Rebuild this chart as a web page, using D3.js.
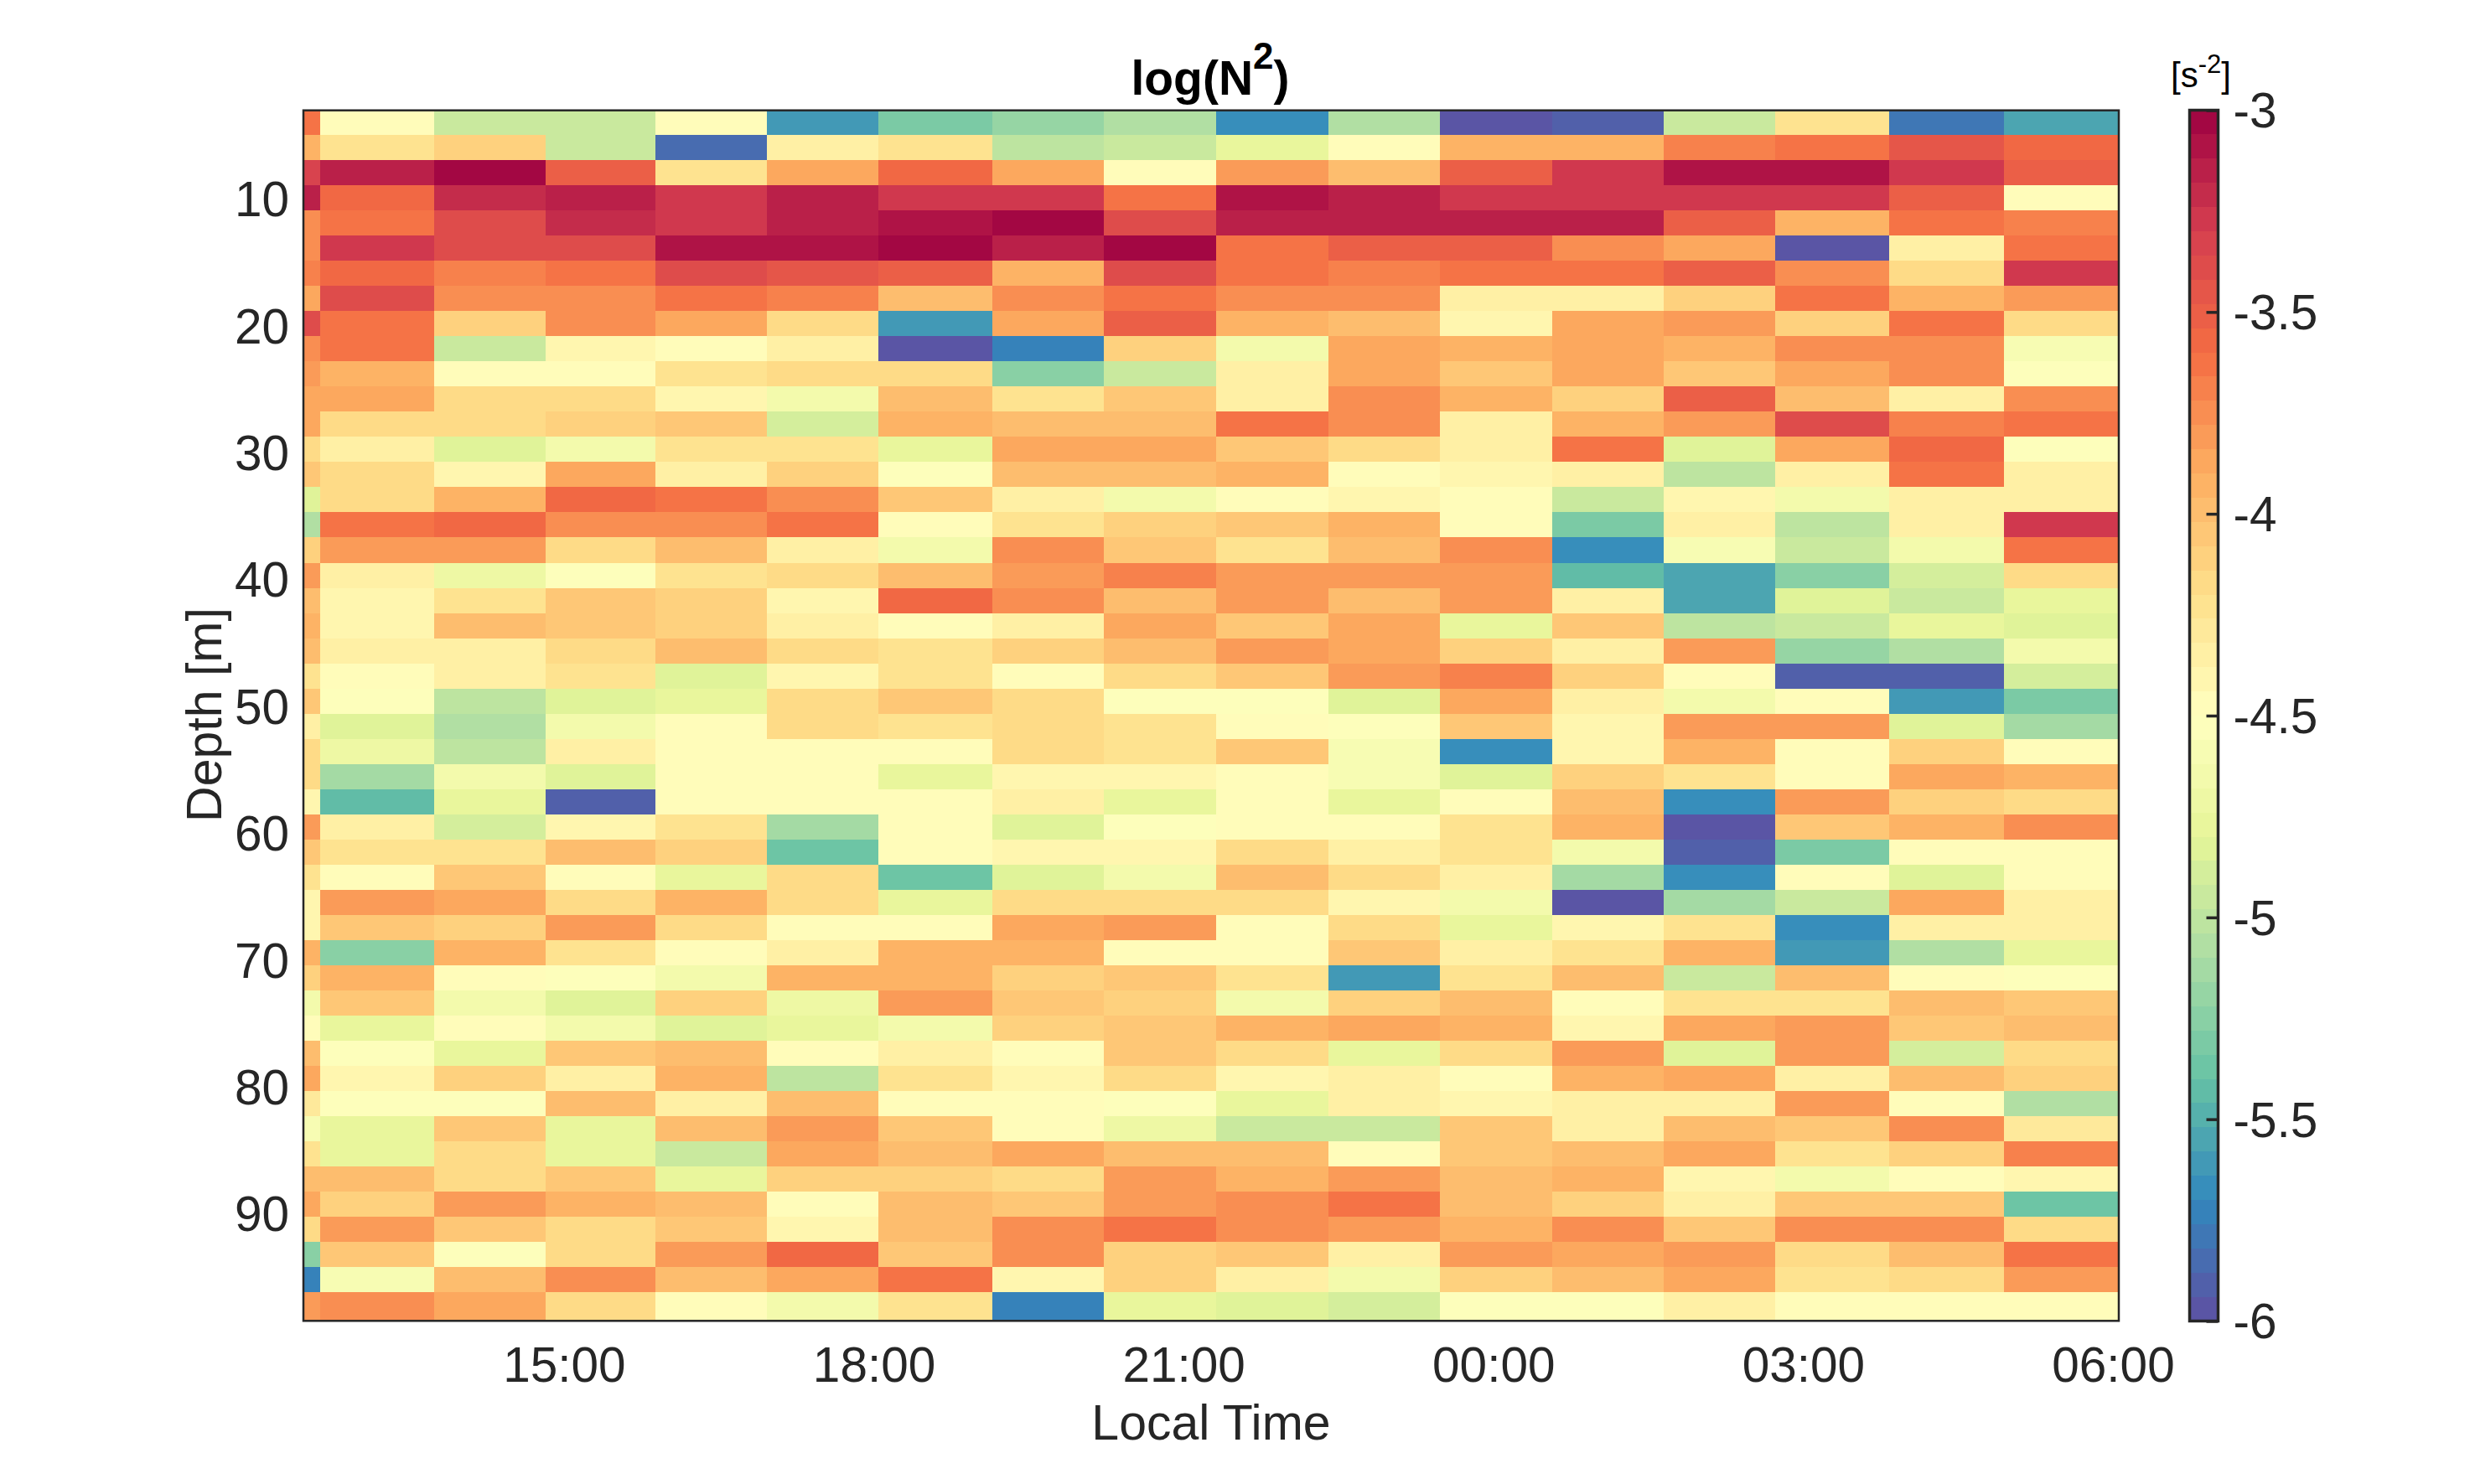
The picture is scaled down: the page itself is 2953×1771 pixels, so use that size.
<!DOCTYPE html>
<html>
<head>
<meta charset="utf-8">
<script src="https://d3js.org/d3.v7.min.js"></script>
<style>
  body { margin: 0; background: #fff; }
  text { font-family: "Liberation Sans", Arial, sans-serif; fill: #262626; }
</style>
</head>
<body>
<div id="graph"></div>
<script>
// bin edges, hours after midnight of the first day (first and last are the axis limits)
const timeEdges = [12.476, 12.636, 13.739, 14.821, 15.885, 16.968, 18.044, 19.144, 20.226, 21.317, 22.404, 23.481, 24.574, 25.649, 26.729, 27.831, 28.941, 30.057];
// bin edges, metres
const depthEdges = [2.91, 4.85, 6.83, 8.82, 10.80, 12.78, 14.77, 16.75, 18.73, 20.72, 22.70, 24.68, 26.67, 28.65, 30.63, 32.62, 34.60, 36.58, 38.57, 40.55, 42.53, 44.52, 46.50, 48.48, 50.47, 52.45, 54.43, 56.42, 58.40, 60.38, 62.37, 64.35, 66.33, 68.32, 70.30, 72.28, 74.27, 76.25, 78.23, 80.22, 82.20, 84.18, 86.17, 88.15, 90.13, 92.12, 94.10, 96.08, 98.33];

const timeTicks = [15, 18, 21, 24, 27, 30];
const depthTicks = [10, 20, 30, 40, 50, 60, 70, 80, 90];
const colorTicks = [-3, -3.5, -4, -4.5, -5, -5.5, -6];

// Spectral, 11 class, from low to high
const spectral = ['#5E4FA2', '#3288BD', '#66C2A5', '#ABDDA4', '#E6F598', '#FFFFBF', '#FEE08B', '#FDAE61', '#F46D43', '#D53E4F', '#9E0142'];
const nLevels = 50;

// one line per depth bin, one value per time bin
const logN2 = [
  [-3.65, -4.5, -4.95, -4.95, -4.5, -5.6, -5.3, -5.2, -5.05, -5.65, -5.07, -5.97, -5.92, -4.95, -4.22, -5.78, -5.53],
  [-3.95, -4.22, -4.13, -4.95, -5.83, -4.38, -4.24, -5.02, -4.97, -4.78, -4.5, -3.95, -3.95, -3.72, -3.62, -3.47, -3.58],
  [-3.33, -3.17, -3.05, -3.52, -4.22, -3.9, -3.58, -3.9, -4.47, -3.83, -4.02, -3.52, -3.25, -3.12, -3.12, -3.25, -3.52],
  [-3.15, -3.55, -3.23, -3.17, -3.3, -3.17, -3.3, -3.3, -3.66, -3.12, -3.17, -3.3, -3.3, -3.3, -3.3, -3.52, -4.47],
  [-3.75, -3.66, -3.37, -3.23, -3.3, -3.17, -3.12, -3.0, -3.42, -3.17, -3.17, -3.17, -3.17, -3.52, -3.95, -3.66, -3.7],
  [-3.75, -3.27, -3.37, -3.37, -3.12, -3.12, -3.05, -3.17, -3.05, -3.63, -3.52, -3.52, -3.78, -3.9, -5.97, -4.35, -3.66],
  [-3.68, -3.57, -3.72, -3.63, -3.37, -3.43, -3.52, -3.95, -3.37, -3.63, -3.7, -3.66, -3.62, -3.52, -3.78, -4.2, -3.3],
  [-3.88, -3.37, -3.78, -3.74, -3.62, -3.7, -4.02, -3.78, -3.66, -3.78, -3.78, -4.35, -4.35, -4.1, -3.62, -3.95, -3.82],
  [-3.42, -3.62, -4.13, -3.74, -3.85, -4.18, -5.6, -3.9, -3.52, -3.95, -4.02, -4.4, -3.9, -3.8, -4.13, -3.66, -4.2],
  [-3.74, -3.66, -4.95, -4.4, -4.48, -4.33, -5.97, -5.75, -4.1, -4.65, -3.86, -3.95, -3.86, -3.92, -3.74, -3.74, -4.58],
  [-3.8, -3.95, -4.5, -4.5, -4.23, -4.2, -4.2, -5.25, -4.97, -4.33, -3.86, -4.08, -3.86, -4.08, -3.9, -3.78, -4.55],
  [-3.86, -3.86, -4.2, -4.18, -4.4, -4.68, -3.97, -4.24, -4.06, -4.33, -3.74, -3.92, -4.14, -3.52, -4.02, -4.35, -3.76],
  [-3.86, -4.15, -4.15, -4.12, -4.04, -4.87, -3.95, -4.02, -4.02, -3.62, -3.76, -4.35, -3.95, -3.82, -3.37, -3.7, -3.63],
  [-4.18, -4.33, -4.82, -4.65, -4.23, -4.23, -4.79, -3.9, -3.9, -4.06, -4.18, -4.33, -3.66, -4.82, -3.9, -3.57, -4.52],
  [-4.07, -4.15, -4.4, -3.9, -4.35, -4.1, -4.52, -4.02, -4.02, -3.95, -4.5, -4.42, -4.35, -5.03, -4.35, -3.66, -4.35],
  [-4.85, -4.18, -3.95, -3.6, -3.66, -3.78, -4.06, -4.35, -4.65, -4.48, -4.4, -4.5, -4.97, -4.42, -4.66, -4.38, -4.33],
  [-5.08, -3.66, -3.6, -3.78, -3.74, -3.66, -4.5, -4.23, -4.12, -4.04, -3.92, -4.5, -5.3, -4.38, -5.03, -4.33, -3.25],
  [-4.1, -3.82, -3.82, -4.2, -4.02, -4.33, -4.65, -3.78, -4.08, -4.23, -4.02, -3.78, -5.7, -4.58, -4.95, -4.65, -3.66],
  [-3.82, -4.35, -4.72, -4.55, -4.23, -4.15, -3.97, -3.82, -3.7, -3.82, -3.82, -3.83, -5.46, -5.53, -5.25, -4.88, -4.18],
  [-4.02, -4.4, -4.23, -4.08, -4.14, -4.4, -3.57, -3.78, -3.97, -3.83, -4.02, -3.83, -4.33, -5.53, -4.86, -4.97, -4.75],
  [-3.95, -4.4, -4.0, -4.08, -4.14, -4.35, -4.5, -4.35, -3.89, -4.08, -3.9, -4.8, -4.08, -5.02, -4.95, -4.8, -4.86],
  [-3.97, -4.33, -4.33, -4.2, -4.0, -4.18, -4.26, -4.14, -4.0, -3.83, -3.9, -4.14, -4.35, -3.83, -5.2, -5.08, -4.65],
  [-4.22, -4.5, -4.35, -4.23, -4.86, -4.4, -4.26, -4.5, -4.18, -4.08, -3.82, -3.7, -4.14, -4.48, -5.92, -5.92, -4.88],
  [-4.08, -4.52, -5.03, -4.82, -4.8, -4.15, -4.04, -4.2, -4.52, -4.52, -4.86, -3.9, -4.35, -4.65, -4.5, -5.6, -5.3],
  [-4.33, -4.82, -5.08, -4.65, -4.5, -4.15, -4.23, -4.2, -4.23, -4.5, -4.52, -4.08, -4.4, -3.83, -3.83, -4.82, -5.13],
  [-4.15, -4.72, -5.03, -4.35, -4.5, -4.5, -4.5, -4.2, -4.23, -4.06, -4.6, -5.65, -4.4, -3.95, -4.5, -4.14, -4.5],
  [-4.15, -5.13, -4.68, -4.82, -4.5, -4.5, -4.8, -4.4, -4.4, -4.5, -4.62, -4.82, -4.14, -4.24, -4.5, -3.9, -3.95],
  [-4.43, -5.46, -4.75, -5.92, -4.5, -4.5, -4.5, -4.35, -4.75, -4.5, -4.8, -4.5, -4.02, -5.65, -3.83, -4.14, -4.18],
  [-3.82, -4.33, -4.88, -4.4, -4.23, -5.13, -4.5, -4.82, -4.52, -4.45, -4.5, -4.26, -3.95, -5.97, -4.06, -3.95, -3.76],
  [-4.08, -4.23, -4.23, -4.02, -4.14, -5.4, -4.5, -4.43, -4.43, -4.15, -4.33, -4.26, -4.65, -5.92, -5.3, -4.5, -4.5],
  [-4.22, -4.5, -4.08, -4.48, -4.8, -4.18, -5.4, -4.82, -4.65, -4.02, -4.15, -4.35, -5.12, -5.65, -4.5, -4.82, -4.5],
  [-4.43, -3.83, -3.9, -4.18, -3.95, -4.15, -4.75, -4.15, -4.15, -4.2, -4.42, -4.65, -5.97, -5.13, -4.97, -3.9, -4.35],
  [-4.4, -4.08, -4.14, -3.83, -4.15, -4.48, -4.48, -3.9, -3.83, -4.5, -4.15, -4.8, -4.4, -4.23, -5.65, -4.33, -4.33],
  [-3.95, -5.25, -3.95, -4.23, -4.48, -4.33, -3.95, -3.95, -4.5, -4.5, -4.06, -4.33, -4.23, -3.95, -5.6, -5.08, -4.75],
  [-4.12, -3.95, -4.5, -4.52, -4.65, -3.95, -3.95, -4.14, -4.08, -4.23, -5.6, -4.23, -4.02, -4.97, -4.02, -4.5, -4.52],
  [-4.65, -4.06, -4.65, -4.86, -4.12, -4.72, -3.83, -4.06, -4.14, -4.65, -4.12, -4.02, -4.47, -4.23, -4.23, -4.02, -4.08],
  [-4.45, -4.8, -4.48, -4.65, -4.82, -4.8, -4.65, -4.14, -4.06, -3.95, -3.89, -3.95, -4.43, -3.86, -3.83, -4.08, -3.97],
  [-3.97, -4.52, -4.8, -4.08, -4.02, -4.5, -4.33, -4.5, -4.06, -4.15, -4.8, -4.15, -3.83, -4.82, -3.83, -4.88, -4.18],
  [-3.9, -4.43, -4.12, -4.33, -3.95, -5.03, -4.24, -4.42, -4.18, -4.4, -4.33, -4.5, -3.95, -3.9, -4.33, -4.02, -4.14],
  [-4.3, -4.52, -4.52, -3.98, -4.33, -4.02, -4.5, -4.47, -4.55, -4.75, -4.33, -4.4, -4.33, -4.33, -3.83, -4.5, -5.05],
  [-4.62, -4.75, -4.06, -4.75, -4.02, -3.83, -4.06, -4.5, -4.7, -4.97, -4.97, -4.08, -4.33, -3.97, -4.08, -3.74, -4.27],
  [-4.25, -4.75, -4.18, -4.75, -4.97, -3.9, -4.0, -3.9, -4.0, -3.97, -4.5, -4.08, -4.02, -3.89, -4.23, -4.12, -3.68],
  [-4.02, -4.02, -4.15, -4.08, -4.75, -4.12, -4.12, -4.18, -3.83, -3.95, -3.82, -4.02, -3.95, -4.4, -4.66, -4.5, -4.4],
  [-3.9, -4.1, -3.83, -3.95, -4.02, -4.5, -4.02, -4.08, -3.83, -3.74, -3.62, -4.02, -4.14, -4.33, -4.06, -4.08, -5.4],
  [-4.15, -3.83, -4.08, -4.15, -4.06, -4.43, -4.02, -3.74, -3.66, -3.74, -3.83, -3.95, -3.78, -4.08, -3.74, -3.74, -4.18],
  [-5.25, -4.08, -4.52, -4.15, -3.83, -3.6, -4.06, -3.74, -4.14, -4.08, -4.33, -3.83, -3.88, -3.82, -4.18, -4.0, -3.63],
  [-5.72, -4.58, -4.02, -3.78, -4.02, -3.88, -3.66, -4.4, -4.14, -4.33, -4.65, -4.14, -4.02, -3.88, -4.23, -4.18, -3.82],
  [-3.83, -3.78, -3.9, -4.18, -4.5, -4.66, -4.23, -5.75, -4.75, -4.82, -4.88, -4.55, -4.52, -4.33, -4.5, -4.5, -4.48]
];

const width = 2953;
const height = 1771;
const plot = { left: 362, right: 2528, top: 131.7, bottom: 1576.3 };
const bar = { left: 2612.5, right: 2646.5, top: 131.5, bottom: 1576.5 };
const tickSize = 58.5;
const labelSize = 59;
const ink = '#262626';

const svg = d3.select('#graph')
  .append('svg')
  .attr('width', width)
  .attr('height', height)
  .style('display', 'block');

const xScale = d3.scaleLinear()
  .domain([timeEdges[0], timeEdges[timeEdges.length - 1]])
  .range([plot.left, plot.right]);

const yScale = d3.scaleLinear()
  .domain([depthEdges[0], depthEdges[depthEdges.length - 1]])
  .range([plot.top, plot.bottom]);

const ramp = d3.piecewise(d3.interpolateRgb, spectral);
const levels = d3.range(nLevels).map(i => ramp((i + 0.5) / nLevels));
const color = d3.scaleQuantize().domain([-6, -3]).range(levels);

// CELLS
const cells = logN2.flatMap((row, r) => row.map((value, c) => ({ r, c, value })));

svg.append('g')
  .attr('shape-rendering', 'crispEdges')
  .selectAll('rect')
  .data(cells)
  .enter()
  .append('rect')
  .attr('x', d => xScale(timeEdges[d.c]))
  .attr('y', d => yScale(depthEdges[d.r]))
  .attr('width', d => xScale(timeEdges[d.c + 1]) - xScale(timeEdges[d.c]))
  .attr('height', d => yScale(depthEdges[d.r + 1]) - yScale(depthEdges[d.r]))
  .attr('fill', d => color(d.value));

// AXES
const hourLabel = h => String(h % 24).padStart(2, '0') + ':00';

const xAxis = svg.append('g')
  .attr('transform', `translate(0,${plot.bottom})`)
  .call(d3.axisBottom(xScale).tickValues(timeTicks).tickFormat(hourLabel).tickSize(0).tickPadding(31));

const yAxis = svg.append('g')
  .attr('transform', `translate(${plot.left},0)`)
  .call(d3.axisLeft(yScale).tickValues(depthTicks).tickFormat(d3.format('d')).tickSize(0).tickPadding(17));

[xAxis, yAxis].forEach(axis => {
  axis.select('.domain').remove();
  axis.selectAll('text').attr('font-size', tickSize).attr('font-family', null).style('fill', ink);
});

svg.append('rect')
  .attr('x', plot.left)
  .attr('y', plot.top)
  .attr('width', plot.right - plot.left)
  .attr('height', plot.bottom - plot.top)
  .attr('fill', 'none')
  .attr('stroke', ink)
  .attr('stroke-width', 2.5);

// LABELS
svg.append('text')
  .attr('x', (plot.left + plot.right) / 2)
  .attr('y', 1718)
  .attr('text-anchor', 'middle')
  .attr('font-size', labelSize)
  .text('Local Time');

svg.append('text')
  .attr('transform', `translate(264,${(plot.top + plot.bottom) / 2 - 1}) rotate(-90)`)
  .attr('text-anchor', 'middle')
  .attr('font-size', labelSize)
  .text('Depth [m]');

const title = svg.append('text')
  .attr('x', (plot.left + plot.right) / 2 - 1)
  .attr('y', 113)
  .attr('text-anchor', 'middle')
  .attr('font-size', 57)
  .attr('font-weight', 'bold')
  .style('fill', '#000');
title.append('tspan').text('log(N');
title.append('tspan').attr('font-size', 44).attr('dy', -31).text('2');
title.append('tspan').attr('dy', 31).text(')');

const unit = svg.append('text')
  .attr('x', 2626)
  .attr('y', 104)
  .attr('text-anchor', 'middle')
  .attr('font-size', 42)
  .style('fill', '#000');
unit.append('tspan').text('[s');
unit.append('tspan').attr('font-size', 31).attr('dy', -17).text('-2');
unit.append('tspan').attr('dy', 17).text(']');

// COLORBAR
const barScale = d3.scaleLinear().domain([-6, -3]).range([bar.bottom, bar.top]);

svg.append('g')
  .attr('shape-rendering', 'crispEdges')
  .selectAll('rect')
  .data(levels)
  .enter()
  .append('rect')
  .attr('x', bar.left)
  .attr('y', d => barScale(color.invertExtent(d)[1]))
  .attr('width', bar.right - bar.left)
  .attr('height', d => barScale(color.invertExtent(d)[0]) - barScale(color.invertExtent(d)[1]))
  .attr('fill', d => d);

const barAxis = svg.append('g')
  .attr('transform', `translate(${bar.right},0)`)
  .call(d3.axisRight(barScale).tickValues(colorTicks).tickFormat(String).tickSize(-14).tickPadding(18));

barAxis.select('.domain').remove();
barAxis.selectAll('line').attr('stroke', ink).attr('stroke-width', 3.5);
barAxis.selectAll('text')
  .attr('font-size', tickSize)
  .attr('font-family', null)
  .attr('dy', '0.35em')
  .style('fill', ink);

svg.append('rect')
  .attr('x', bar.left)
  .attr('y', bar.top)
  .attr('width', bar.right - bar.left)
  .attr('height', bar.bottom - bar.top)
  .attr('fill', 'none')
  .attr('stroke', ink)
  .attr('stroke-width', 3.5);
</script>
</body>
</html>
